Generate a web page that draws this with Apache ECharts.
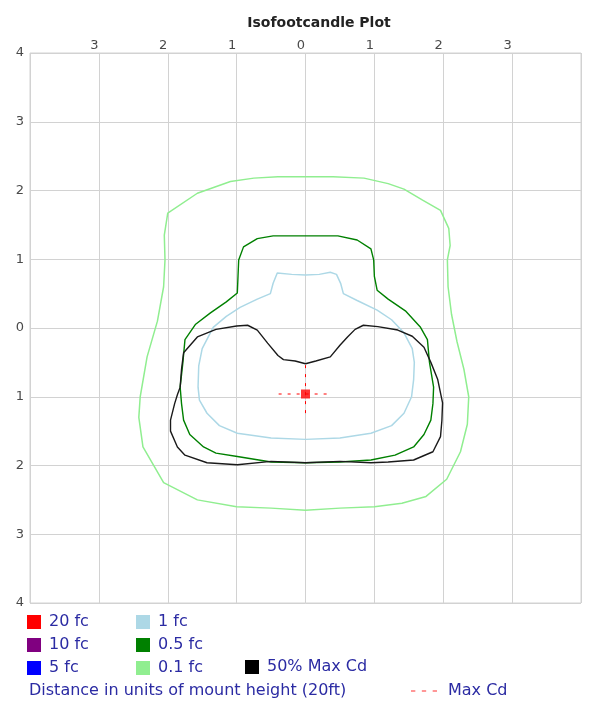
<!DOCTYPE html>
<html>
<head>
<meta charset="utf-8">
<script src="https://cdn.jsdelivr.net/npm/echarts@6/dist/echarts.min.js"></script>
<style>
  html, body { margin: 0; padding: 0; background: #fff; }
  #chart { width: 589px; height: 719px; }
</style>
</head>
<body>
<div id="chart"></div>
<script>
// Axis ticks in units of mount height (labels are shown as distances, no sign)
const axisTicks = [-4, -3, -2, -1, 0, 1, 2, 3, 4];

// Isofootcandle contours, [x, y] in units of mount height
const contour01fc = [
  [0, 2.2], [0.4, 2.2], [0.85, 2.18], [1.2, 2.1], [1.43, 2.02], [1.7, 1.86], [1.96, 1.71],
  [2.08, 1.45], [2.1, 1.2], [2.06, 0.99], [2.07, 0.6], [2.12, 0.2], [2.2, -0.2], [2.3, -0.6],
  [2.37, -1.0], [2.35, -1.4], [2.25, -1.8], [2.05, -2.2], [1.75, -2.45], [1.4, -2.55],
  [1.0, -2.6], [0.5, -2.62], [0, -2.65], [-0.5, -2.62], [-1.0, -2.6], [-1.57, -2.5],
  [-2.06, -2.25], [-2.36, -1.73], [-2.42, -1.3], [-2.4, -1.0], [-2.3, -0.42], [-2.15, 0.1],
  [-2.06, 0.6], [-2.04, 0.99], [-2.05, 1.35], [-2.0, 1.67], [-1.57, 1.96], [-1.09, 2.13],
  [-0.75, 2.18], [-0.4, 2.2], [0, 2.2]
];
const contour05fc = [
  [0, 1.34], [0.47, 1.34], [0.75, 1.28], [0.95, 1.15], [0.99, 0.99], [1.0, 0.75], [1.04, 0.55],
  [1.2, 0.42], [1.45, 0.25], [1.67, 0.01], [1.77, -0.17], [1.8, -0.5], [1.86, -0.86],
  [1.85, -1.1], [1.82, -1.34], [1.72, -1.55], [1.57, -1.73], [1.3, -1.85], [0.95, -1.92],
  [0.5, -1.95], [0, -1.96], [-0.5, -1.95], [-0.99, -1.87], [-1.3, -1.82], [-1.48, -1.73],
  [-1.68, -1.55], [-1.77, -1.34], [-1.8, -1.1], [-1.82, -0.86], [-1.78, -0.5], [-1.75, -0.17],
  [-1.6, 0.05], [-1.38, 0.22], [-1.15, 0.38], [-0.99, 0.51], [-0.98, 0.75], [-0.97, 0.99],
  [-0.9, 1.18], [-0.7, 1.3], [-0.47, 1.34], [0, 1.34]
];
const contour1fc = [
  [0, 0.77], [0.2, 0.78], [0.36, 0.81], [0.45, 0.78], [0.51, 0.65], [0.55, 0.5], [0.75, 0.4],
  [1.04, 0.26], [1.25, 0.12], [1.43, -0.07], [1.55, -0.3], [1.58, -0.5], [1.57, -0.75],
  [1.54, -1.0], [1.43, -1.24], [1.25, -1.42], [0.95, -1.53], [0.5, -1.6], [0, -1.62],
  [-0.5, -1.6], [-0.99, -1.53], [-1.25, -1.42], [-1.43, -1.24], [-1.54, -1.05], [-1.56, -0.86],
  [-1.55, -0.55], [-1.5, -0.3], [-1.34, 0.01], [-1.15, 0.17], [-0.95, 0.3], [-0.7, 0.42],
  [-0.51, 0.5], [-0.47, 0.65], [-0.41, 0.8], [-0.2, 0.78], [0, 0.77]
];
const contourHalfMaxCd = [
  [0, -0.52], [0.15, -0.48], [0.36, -0.42], [0.5, -0.25], [0.61, -0.13], [0.72, -0.02],
  [0.84, 0.04], [1.05, 0.02], [1.34, -0.03], [1.55, -0.12], [1.72, -0.28], [1.82, -0.5],
  [1.92, -0.75], [1.99, -1.09], [1.98, -1.35], [1.96, -1.58], [1.85, -1.8], [1.57, -1.92],
  [1.2, -1.95], [0.95, -1.96], [0.5, -1.94], [0, -1.96], [-0.5, -1.94], [-0.99, -1.99],
  [-1.43, -1.96], [-1.75, -1.85], [-1.86, -1.73], [-1.96, -1.5], [-1.96, -1.34], [-1.9, -1.1],
  [-1.86, -0.97], [-1.82, -0.86], [-1.8, -0.6], [-1.77, -0.36], [-1.57, -0.13], [-1.3, -0.02],
  [-1.0, 0.03], [-0.84, 0.04], [-0.7, -0.03], [-0.55, -0.22], [-0.4, -0.4], [-0.32, -0.46],
  [-0.15, -0.48], [0, -0.52]
];

// Maximum candela aiming point and its crosshair extents
const maxCdPoint = [[0, -0.96]];
const maxCdCrossH = [[-0.39, -0.96], [0.39, -0.96]];
const maxCdCrossV = [[0, -0.54], [0, -1.31]];

// Legend entries
const levelNames = ['20 fc', '10 fc', '5 fc', '1 fc', '0.5 fc', '0.1 fc', '50% Max Cd', 'Max Cd'];
const levelColors = ['#ff0000', '#800080', '#0000ff', '#add8e6', '#008000', '#90ee90', '#000000', '#ff0000'];

const FONT = 'DejaVu Sans';
const TEXT_BLUE = '#2b2ba3';
const DASH_ICON = 'path://M0,0h4v1h-4z M10,0h4v1h-4z M20,0h4v1h-4z';

function contourSeries(name, color, data, width) {
  return {
    name: name, type: 'line', data: data, symbol: 'none', smooth: false,
    lineStyle: { color: color, width: width }, itemStyle: { color: color },
    silent: true, animation: false
  };
}

const series = [
  contourSeries(levelNames[0], levelColors[0], [], 1.5),
  contourSeries(levelNames[1], levelColors[1], [], 1.5),
  contourSeries(levelNames[2], levelColors[2], [], 1.5),
  contourSeries(levelNames[5], levelColors[5], contour01fc, 1.5),
  contourSeries(levelNames[4], levelColors[4], contour05fc, 1.4),
  contourSeries(levelNames[3], levelColors[3], contour1fc, 1.5),
  contourSeries(levelNames[6], '#1a1a1a', contourHalfMaxCd, 1.4),
  {
    name: levelNames[7], type: 'line', data: maxCdCrossH, symbol: 'none',
    lineStyle: { color: '#ff0000', width: 1, type: [3, 6] }, itemStyle: { color: '#ff3030' },
    silent: true, animation: false
  },
  {
    name: 'crossV', type: 'line', data: maxCdCrossV, symbol: 'none',
    lineStyle: { color: '#ff0000', width: 1, type: [3, 6] }, silent: true, animation: false
  },
  {
    name: 'maxPoint', type: 'scatter', data: maxCdPoint, symbol: 'rect', symbolSize: 9,
    itemStyle: { color: '#ff0000' }, silent: true, animation: false
  }
];
// square legend swatch for the half-max contour is pure black
series[6].itemStyle.color = '#000000';

function legendBlock(left, top, names) {
  return {
    left: left, top: top, orient: 'vertical', padding: 0, itemGap: 7,
    itemWidth: 14, itemHeight: 14, icon: 'rect', selectedMode: false,
    data: names,
    textStyle: { color: TEXT_BLUE, fontFamily: FONT, fontSize: 16, lineHeight: 14, padding: [0, 0, 0, 3] }
  };
}

const option = {
  backgroundColor: '#ffffff',
  animation: false,
  title: [
    {
      text: 'Isofootcandle Plot', left: 314, top: 11, textAlign: 'center',
      textStyle: { fontFamily: FONT, fontSize: 14, fontWeight: 'bold', color: '#222' }
    },
    {
      text: 'Distance in units of mount height (20ft)', left: 29, top: 683, padding: 0,
      textStyle: { fontFamily: FONT, fontSize: 16, fontWeight: 'normal', color: TEXT_BLUE, lineHeight: 16 }
    }
  ],
  legend: [
    legendBlock(27, 614, levelNames.slice(0, 3)),
    legendBlock(136, 614, levelNames.slice(3, 6)),
    legendBlock(245, 659, [levelNames[6]]),
    {
      left: 411, top: 683, padding: 0, itemWidth: 26, itemHeight: 2, selectedMode: false,
      data: [{ name: levelNames[7], icon: DASH_ICON }],
      textStyle: { color: TEXT_BLUE, fontFamily: FONT, fontSize: 16, lineHeight: 16, padding: [0, 0, 0, 6] }
    }
  ],
  grid: {
    left: 30, top: 53, width: 551, height: 550,
    show: true, borderColor: '#d2d2d2', borderWidth: 1, backgroundColor: 'transparent'
  },
  xAxis: {
    type: 'value', position: 'top',
    min: axisTicks[0], max: axisTicks[axisTicks.length - 1], interval: 1,
    axisLine: { show: false }, axisTick: { show: false },
    splitLine: { show: true, lineStyle: { color: '#d2d2d2', width: 1 } },
    axisLabel: {
      margin: 1, color: '#4a4a4a', fontFamily: FONT, fontSize: 13, padding: [0, 9, 0, 0],
      formatter: function (v) { return Math.abs(v) === 4 ? '' : String(Math.abs(v)); }
    }
  },
  yAxis: {
    type: 'value',
    min: axisTicks[0], max: axisTicks[axisTicks.length - 1], interval: 1,
    axisLine: { show: false }, axisTick: { show: false },
    splitLine: { show: true, lineStyle: { color: '#d2d2d2', width: 1 } },
    axisLabel: {
      margin: 6, color: '#4a4a4a', fontFamily: FONT, fontSize: 13,
      formatter: function (v) { return String(Math.abs(v)); }
    }
  },
  series: series
};

const chart = echarts.init(document.getElementById('chart'), null, { renderer: 'canvas' });
chart.setOption(option);
</script>
</body>
</html>
